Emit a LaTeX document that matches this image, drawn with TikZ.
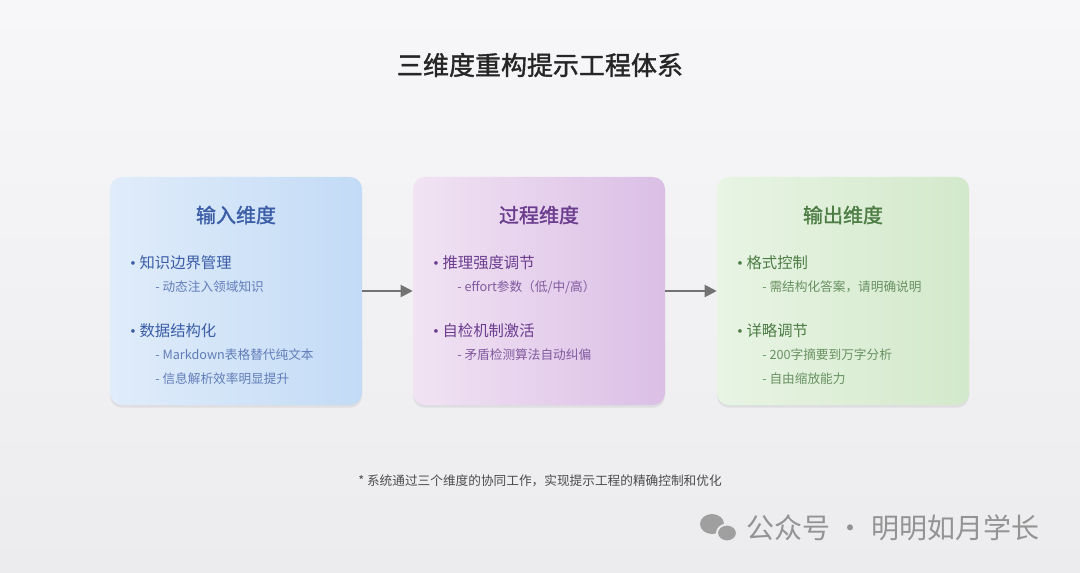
\documentclass[tikz,border=0pt]{standalone}
\usepackage{fontspec}
\setmainfont{Noto Sans CJK SC}
\newfontfamily\cjkb[FakeBold=1.5]{Noto Sans CJK SC}
\newfontfamily\bulfont{Liberation Serif}
\newcommand\bul{{\bulfont •}\hspace{3pt}}
\usetikzlibrary{shadows,arrows.meta}
\definecolor{bgA}{HTML}{F7F7F9}
\definecolor{bgB}{HTML}{ECECEF}
\definecolor{inA}{HTML}{E0ECFA}
\definecolor{inB}{HTML}{C3DBF6}
\definecolor{inT}{HTML}{3A5DA6}
\definecolor{prA}{HTML}{F1E3F3}
\definecolor{prB}{HTML}{DBBFE6}
\definecolor{prT}{HTML}{6B3C8E}
\definecolor{ouA}{HTML}{E8F4E4}
\definecolor{ouB}{HTML}{D3E9CB}
\definecolor{ouT}{HTML}{4D7D45}
\tikzset{
  dimbox/.style={draw=none,rounded corners=9,minimum width=189pt,minimum height=171pt,
    drop shadow={shadow xshift=0pt,shadow yshift=-2pt,opacity=0.15}},
  boxtitle/.style={font=\cjkb\fontsize{15}{15}\selectfont},
  item/.style={anchor=west,font=\fontsize{11.5}{12}\selectfont,inner sep=0},
  sub/.style={anchor=west,font=\fontsize{9.5}{10}\selectfont,inner sep=0},
  flow/.style={-{Triangle[length=9pt,width=9pt]},line width=1.5pt,draw=gray!90!black}
}
\begin{document}
\begin{tikzpicture}[x=0.75pt,y=-0.75pt]
  \useasboundingbox (0,0) rectangle (1080,573);
  \shade[top color=bgA,bottom color=bgB] (0,0) rectangle (1080,573);
  \node[font=\cjkb\fontsize{19.5}{20}\selectfont,text=black!85] (title) at (540,65) {三维度重构提示工程体系};
  % three dimension boxes
  \node[dimbox,left color=inA,right color=inB] (input) at (236,291) {};
  \node[dimbox,left color=prA,right color=prB] (process) at (539,291) {};
  \node[dimbox,left color=ouA,right color=ouB] (output) at (843,291) {};
  \draw[flow] (input) -- (process);
  \draw[flow] (process) -- (output);
  % input
  \node[boxtitle,text=inT] (inhead) at (236,215) {输入维度};
  \node[item,text=inT] (in1) at (130,263) {\bul 知识边界管理};
  \node[sub,text=inT!80] (in1a) at (155,287) {- 动态注入领域知识};
  \node[item,text=inT] (in2) at (130,331) {\bul 数据结构化};
  \node[sub,text=inT!80] (in2a) at (155,355) {- Markdown表格替代纯文本};
  \node[sub,text=inT!80] (in2b) at (155,379) {- 信息解析效率明显提升};
  % process
  \node[boxtitle,text=prT] (prhead) at (539,215) {过程维度};
  \node[item,text=prT] (pr1) at (433,263) {\bul 推理强度调节};
  \node[sub,text=prT!85] (pr1a) at (457,287) {- effort参数（低/中/高）};
  \node[item,text=prT] (pr2) at (433,331) {\bul 自检机制激活};
  \node[sub,text=prT!85] (pr2a) at (457,355) {- 矛盾检测算法自动纠偏};
  % output
  \node[boxtitle,text=ouT] (ouhead) at (843,215) {输出维度};
  \node[item,text=ouT] (ou1) at (737,263) {\bul 格式控制};
  \node[sub,text=ouT!85] (ou1a) at (762,287) {- 需结构化答案，请明确说明};
  \node[item,text=ouT] (ou2) at (737,331) {\bul 详略调节};
  \node[sub,text=ouT!85] (ou2a) at (762,355) {- 200字摘要到万字分析};
  \node[sub,text=ouT!85] (ou2b) at (762,379) {- 自由缩放能力};
  % note and watermark
  \node[font=\fontsize{9.5}{10}\selectfont,text=black!70] (note) at (540,481) {* 系统通过三个维度的协同工作，实现提示工程的精确控制和优化};
  \fill[gray!75] (712,524) ellipse (12 and 10);
  \fill[gray!75,draw=bgB,line width=1.5pt] (727,533) ellipse (10 and 8.5);
  \node[anchor=west,font=\fontsize{21}{22}\selectfont,text=gray!85] (mark) at (742,528) {公众号 · 明明如月学长};
\end{tikzpicture}
\end{document}
